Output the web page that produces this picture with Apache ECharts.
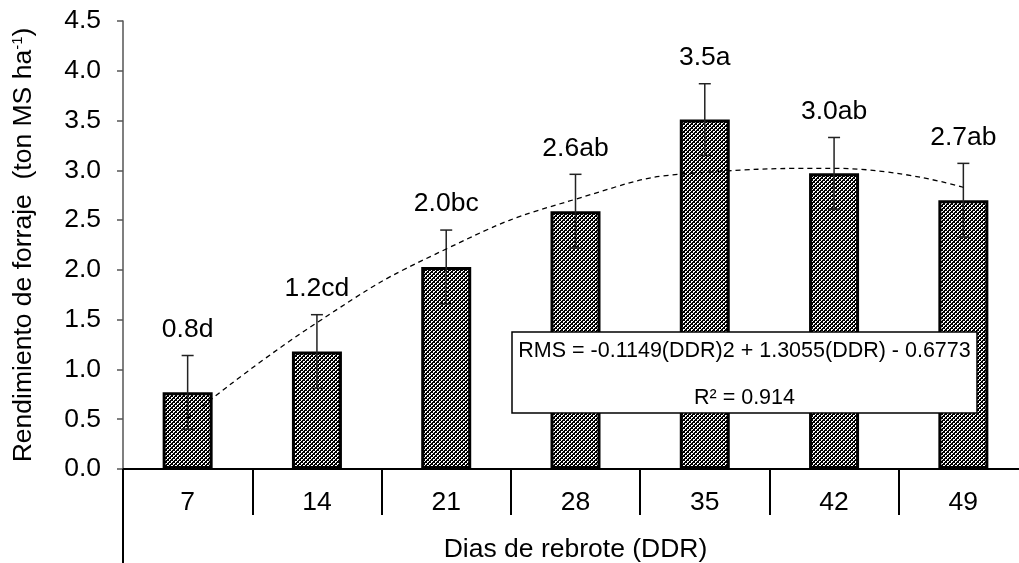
<!DOCTYPE html>
<html>
<head>
<meta charset="utf-8">
<script src="https://cdn.jsdelivr.net/npm/echarts/dist/echarts.min.js"></script>
<style>
html,body{margin:0;padding:0;background:#fff;}
#main{width:1019px;height:563px;}
</style>
</head>
<body>
<div id="main"></div>
<script>
const categories = ['7', '14', '21', '28', '35', '42', '49'];
const yieldValues = [0.77, 1.18, 2.03, 2.59, 3.51, 2.97, 2.70];
const errorValues = [0.37, 0.37, 0.37, 0.37, 0.36, 0.36, 0.37];
const barLabels = ['0.8d', '1.2cd', '2.0bc', '2.6ab', '3.5a', '3.0ab', '2.7ab'];
const trendValues = [0.51, 1.47, 2.21, 2.71, 2.98, 3.02, 2.83];
const equationText = 'RMS = -0.1149(DDR)2 + 1.3055(DDR) - 0.6773';
const r2Text = 'R\u00b2 = 0.914';
const xName = 'Dias de rebrote (DDR)';

const FONT = '"Liberation Sans", Arial, sans-serif';
const FS = 26.5;

// cross-hatch pattern for bars
const pat = document.createElement('canvas');
pat.width = 4; pat.height = 4;
const pctx = pat.getContext('2d');
pctx.fillStyle = '#fff'; pctx.fillRect(0, 0, 4, 4);
pctx.fillStyle = '#000';
[[0,0],[1,1],[2,2],[3,3],[3,0],[2,1],[1,2],[0,3],[0,2],[2,0]].forEach(p => pctx.fillRect(p[0], p[1], 1, 1));

const chart = echarts.init(document.getElementById('main'), null, {renderer: 'canvas'});

const GRID_LEFT = 123;
const errData = yieldValues.map((v, i) => [i, v, errorValues[i]]);

const option = {
  backgroundColor: '#fff',
  animation: false,
  grid: {left: GRID_LEFT, top: 21, width: 905, bottom: 94, containLabel: false, outerBoundsMode: 'none'},
  xAxis: {
    type: 'category',
    data: categories,
    boundaryGap: true,
    name: xName,
    nameLocation: 'middle',
    nameGap: 67,
    nameTextStyle: {fontSize: FS, fontFamily: FONT, color: '#000'},
    axisLine: {lineStyle: {color: '#000', width: 2}},
    axisTick: {show: true, length: 46, interval: 0, lineStyle: {color: '#000', width: 2}},
    axisLabel: {fontSize: FS, fontFamily: FONT, color: '#000', margin: 20, interval: 0}
  },
  yAxis: {
    type: 'value',
    min: 0, max: 4.5, interval: 0.5,
    name: 'Rendimiento de forraje  (ton MS ha{sup|-1})',
    nameLocation: 'middle',
    nameGap: 86,
    nameTextStyle: {
      fontSize: FS, fontFamily: FONT, color: '#000',
      rich: {sup: {fontSize: 15, fontFamily: FONT, color: '#000', padding: [0, 0, 12, 0]}}
    },
    axisLine: {show: true, lineStyle: {color: '#555', width: 1.5}},
    axisTick: {show: true, length: 6, lineStyle: {color: '#555', width: 1.5}},
    axisLabel: {fontSize: FS, fontFamily: FONT, color: '#000', margin: 22, formatter: v => v.toFixed(1)},
    splitLine: {show: false}
  },
  series: [
    {
      type: 'bar',
      data: yieldValues,
      barWidth: 50,
      itemStyle: {color: {image: pat, repeat: 'repeat'}, borderColor: '#000', borderWidth: 3},
      z: 2
    },
    {
      type: 'custom',
      data: errData,
      z: 3,
      renderItem: function (params, api) {
        const i = api.value(0), v = api.value(1), e = api.value(2);
        const top = api.coord([i, v + e]);
        const bot = api.coord([i, v - e]);
        const hw = 6;
        const st = {stroke: '#222', lineWidth: 1.5};
        return {
          type: 'group',
          children: [
            {type: 'line', shape: {x1: top[0], y1: top[1], x2: bot[0], y2: bot[1]}, style: st},
            {type: 'line', shape: {x1: top[0] - hw, y1: top[1], x2: top[0] + hw, y2: top[1]}, style: st},
            {type: 'line', shape: {x1: bot[0] - hw, y1: bot[1], x2: bot[0] + hw, y2: bot[1]}, style: st},
            {type: 'text', x: top[0], y: top[1] - 26,
              style: {text: barLabels[params.dataIndex], fill: '#000', fontSize: FS, fontFamily: FONT,
                      align: 'center', verticalAlign: 'middle'}}
          ]
        };
      }
    },
    {
      type: 'line',
      data: trendValues,
      smooth: 0.5,
      symbol: 'none',
      lineStyle: {color: '#000', width: 1.3, type: [5, 4]},
      z: 4
    }
  ]
};
chart.setOption(option);

const y0 = chart.convertToPixel({yAxisIndex: 0}, 0);
chart.setOption({
  graphic: [
    {type: 'line', shape: {x1: GRID_LEFT, y1: y0, x2: GRID_LEFT, y2: 563}, style: {stroke: '#000', lineWidth: 2}, z: 10},
    {type: 'rect', shape: {x: 512, y: 332, width: 465, height: 81}, style: {fill: '#fff', stroke: '#000', lineWidth: 1.5}, z: 20},
    {type: 'text', x: 744.5, y: 351, style: {text: equationText, fill: '#000', fontSize: 21.5, fontFamily: FONT, align: 'center', verticalAlign: 'middle'}, z: 21},
    {type: 'text', x: 744.5, y: 398, style: {text: r2Text, fill: '#000', fontSize: 21.5, fontFamily: FONT, align: 'center', verticalAlign: 'middle'}, z: 21}
  ]
});
</script>
</body>
</html>
